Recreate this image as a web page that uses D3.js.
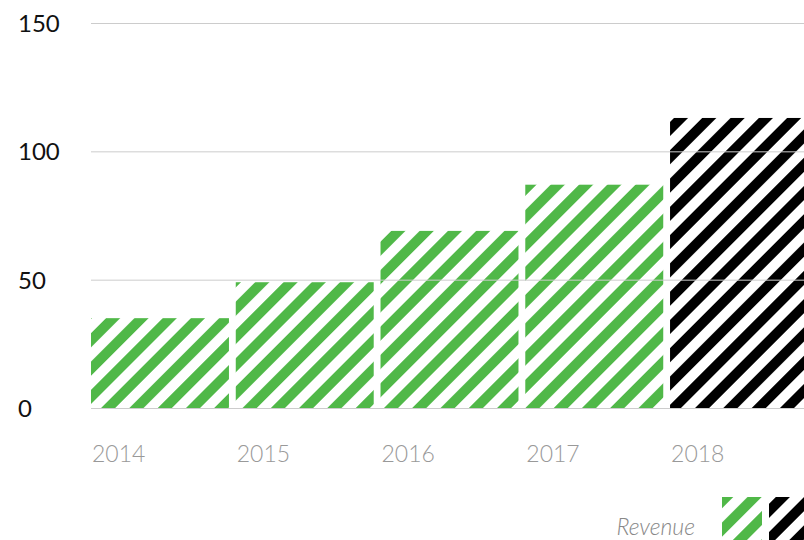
<!DOCTYPE html>
<html>
<head>
<meta charset="utf-8">
<script src="https://cdn.jsdelivr.net/npm/d3@7"></script>
<style>
  html, body { margin: 0; padding: 0; background: #fff; overflow: hidden; }
  svg { display: block; font-family: Lato, "Open Sans", sans-serif; }
</style>
</head>
<body>
<svg id="chart" width="804" height="540"></svg>
<script>
// Annual revenue; the last year is shown as a forecast
const years = ["2014", "2015", "2016", "2017", "2018"];
const revenue = [35, 49, 69, 87, 113];
const forecast = [false, false, false, false, true];
const yTicks = [0, 50, 100, 150];
const legendLabel = "Revenue";

const svg = d3.select("#chart");

const x = d3.scaleBand().domain(years).range([91, 808]).paddingInner(0.047).paddingOuter(0);
const y = d3.scaleLinear().domain([0, 150]).range([408, 23]);

// Diagonal stripe fills
const defs = svg.append("defs");
function stripes(id, color) {
  const p = defs.append("pattern")
    .attr("id", id)
    .attr("patternUnits", "userSpaceOnUse")
    .attr("width", 20).attr("height", 20)
    .attr("patternTransform", "rotate(45)");
  p.append("rect").attr("x", 0).attr("y", 0).attr("width", 10).attr("height", 20).attr("fill", color);
}
stripes("stripe-actual", "#50b848");
stripes("stripe-forecast", "#000000");

// Bars
svg.append("g").selectAll("rect")
  .data(years)
  .join("rect")
  .attr("x", d => x(d))
  .attr("y", (d, i) => y(revenue[i]))
  .attr("width", x.bandwidth())
  .attr("height", (d, i) => y(0) - y(revenue[i]))
  .attr("fill", (d, i) => forecast[i] ? "url(#stripe-forecast)" : "url(#stripe-actual)");

// Y axis: gridlines drawn over the bars, labels at the left
const yAxis = d3.axisLeft(y).tickValues(yTicks).tickSize(-(804 - 91)).tickPadding(0);
const gy = svg.append("g").attr("transform", "translate(91,0)").call(yAxis);
gy.select(".domain").remove();
gy.selectAll(".tick line").attr("stroke", "#cccccc").attr("stroke-width", 1);
gy.selectAll(".tick text")
  .attr("x", 18 - 91)
  .attr("dy", "0.36em")
  .attr("text-anchor", "start")
  .attr("fill", "#111")
  .style("font-size", "24px")
  .style("font-family", "Lato, sans-serif");

// X axis labels, left aligned under each bar
const xAxis = d3.axisBottom(x).tickSize(0).tickPadding(0);
const gx = svg.append("g").attr("transform", "translate(0,408)").call(xAxis);
gx.select(".domain").remove();
gx.selectAll(".tick text")
  .attr("x", x.bandwidth() / -2 + 1)
  .attr("y", 54)
  .attr("dy", 0)
  .attr("text-anchor", "start")
  .attr("fill", "#999")
  .style("font-size", "23px")
  .style("font-weight", 300)
  .style("font-family", "Lato, sans-serif");

// Legend
const legend = svg.append("g");
legend.append("text")
  .attr("x", 695).attr("y", 535)
  .attr("text-anchor", "end")
  .attr("fill", "#888")
  .style("font-size", "23px")
  .style("font-style", "italic")
  .style("font-weight", 300)
  .text(legendLabel);
legend.append("rect").attr("x", 722).attr("y", 497).attr("width", 40).attr("height", 50).attr("fill", "url(#stripe-actual)");
legend.append("rect").attr("x", 769).attr("y", 497).attr("width", 40).attr("height", 50).attr("fill", "url(#stripe-forecast)");
</script>
</body>
</html>
